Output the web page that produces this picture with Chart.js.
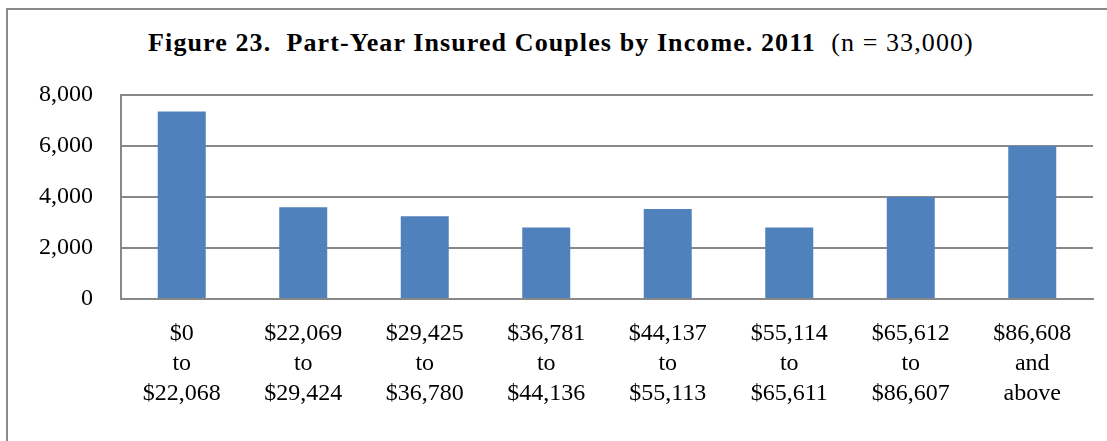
<!DOCTYPE html>
<html>
<head>
<meta charset="utf-8">
<script src="https://cdn.jsdelivr.net/npm/chart.js@4"></script>
<style>
  html, body { margin: 0; padding: 0; background: #fff; }
  #wrap { position: relative; width: 1107px; height: 441px; overflow: hidden; background: #fff; }
  #frame { position: absolute; left: 6px; top: 8px; width: 1130px; height: 460px; border: 2px solid #8a8a8a; box-sizing: border-box; }
  #title { position: absolute; left: 0px; width: 1122px; top: 28px; text-align: center; font-family: "Liberation Serif", "Times New Roman", serif; font-size: 26px; letter-spacing: 1.1px; color: #000; white-space: pre; }
  #title b { font-weight: bold; }
  canvas { position: absolute; left: 0; top: 0; }
</style>
</head>
<body>
<div id="wrap">
  <div id="frame"></div>
  <div id="title"><b>Figure 23.  Part-Year Insured Couples by Income. 2011</b>  (n = 33,000)</div>
  <canvas id="c" width="1107" height="441"></canvas>
</div>
<script>
const categories = [
  ["$0", "to", "$22,068"],
  ["$22,069", "to", "$29,424"],
  ["$29,425", "to", "$36,780"],
  ["$36,781", "to", "$44,136"],
  ["$44,137", "to", "$55,113"],
  ["$55,114", "to", "$65,611"],
  ["$65,612", "to", "$86,607"],
  ["$86,608", "and", "above"]
];
const couples = [7350, 3600, 3250, 2800, 3530, 2800, 4000, 6000];
const yTicks = [0, 2000, 4000, 6000, 8000];

const gridGray = '#888888';
const serif = '"Liberation Serif", "Times New Roman", serif';

new Chart(document.getElementById('c'), {
  type: 'bar',
  data: {
    labels: categories,
    datasets: [{
      data: couples,
      backgroundColor: '#4F81BD',
      borderWidth: 0,
      categoryPercentage: 1,
      barPercentage: 0.395
    }]
  },
  options: {
    responsive: false,
    animation: false,
    layout: { padding: { left: 0, right: 14, top: 95, bottom: 0 } },
    plugins: { legend: { display: false }, title: { display: false }, tooltip: { enabled: false } },
    scales: {
      x: {
        grid: { display: false, drawTicks: false },
        border: { display: true, color: gridGray, width: 2 },
        ticks: { color: '#000', font: { family: serif, size: 24, lineHeight: 1.25 }, padding: 20, maxRotation: 0, autoSkip: false },
        afterFit: (s) => { s.height = 142; }
      },
      y: {
        min: 0, max: 8000,
        afterBuildTicks: (s) => { s.ticks = yTicks.map(v => ({ value: v })); },
        grid: { color: gridGray, lineWidth: 2, drawTicks: false },
        border: { display: true, color: gridGray, width: 2 },
        ticks: {
          color: '#000', font: { family: serif, size: 24 }, padding: 28,
          callback: (v) => v.toLocaleString('en-US')
        },
        afterFit: (s) => { s.width = 121; }
      }
    }
  }
});
</script>
</body>
</html>
